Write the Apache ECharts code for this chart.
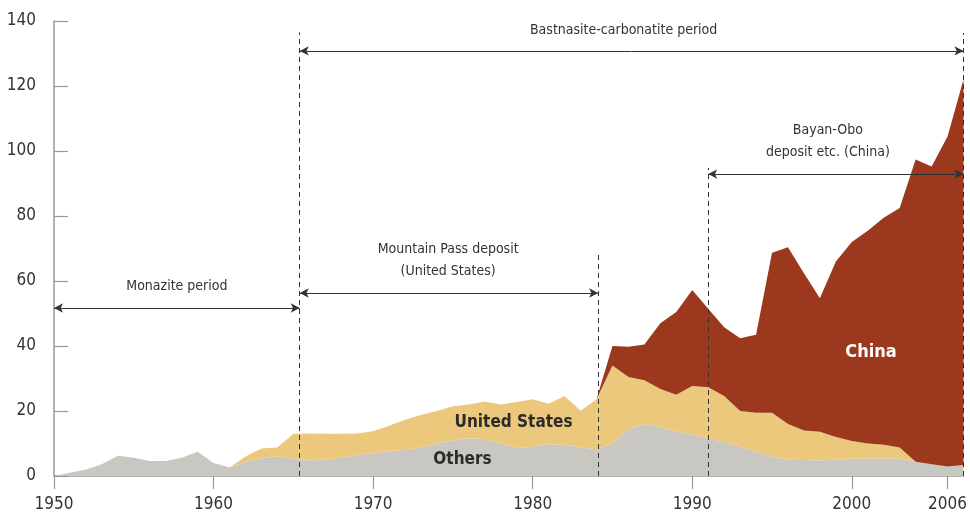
<!DOCTYPE html>
<html>
<head>
<meta charset="utf-8">
<script src="https://cdn.jsdelivr.net/npm/echarts@6/dist/echarts.min.js"></script>
<style>
html,body{margin:0;padding:0;background:#fff;}
#chart{width:970px;height:518px;}
</style>
</head>
<body>
<div id="chart"></div>
<script>
// ---- data ----
const years = [1950,1951,1952,1953,1954,1955,1956,1957,1958,1959,
  1960,1961,1962,1963,1964,1965,1966,1967,1968,1969,
  1970,1971,1972,1973,1974,1975,1976,1977,1978,1979,
  1980,1981,1982,1983,1984,1985,1986,1987,1988,1989,
  1990,1991,1992,1993,1994,1995,1996,1997,1998,1999,
  2000,2001,2002,2003,2004,2005,2006,2007];

const others = [0,1.0,2.0,3.6,6.2,5.6,4.6,4.6,5.6,7.5,
  4.0,2.6,4.3,5.5,6.0,5.4,4.8,5.0,5.7,6.5,
  7.1,7.6,8.0,8.8,10.0,11.0,11.6,11.4,10.0,8.6,
  9.0,9.8,9.6,8.8,8.2,10.0,14.5,16.0,15.0,13.8,
  12.8,11.6,10.5,9.0,7.5,6.0,5.0,4.9,4.8,5.0,
  5.3,5.4,5.4,5.4,4.4,3.6,2.9,3.4];

const unitedStates = [0,0,0,0,0,0,0,0,0,0,
  0,0,1.7,3.0,2.8,7.6,8.3,8.0,7.3,6.6,
  6.7,7.9,9.3,10.0,10.0,10.5,10.4,11.5,12.0,14.2,
  14.6,12.4,15.0,11.3,15.4,24.0,16.0,13.5,11.8,11.2,
  14.9,15.7,14.1,11.0,12.0,13.5,11.0,9.1,8.8,7.0,
  5.5,4.6,4.2,3.4,0,0,0,0];

const china = [0,0,0,0,0,0,0,0,0,0,
  0,0,0,0,0,0,0,0,0,0,
  0,0,0,0,0,0,0,0,0,0,
  0,0,0,0,0,6.0,9.3,11.0,20.2,25.5,
  29.5,24.2,21.2,22.4,24.0,49.2,54.4,48.4,41.1,54.0,
  61.2,65.5,69.9,73.7,93.0,91.6,101.6,118.6];

const xTickLabels = [1950,1960,1970,1980,1990,2000,2006];
const yTicks = [0,20,40,60,80,100,120,140];

// period boundaries (year, top of dashed line in chart units)
const boundaries = [[1965.4,136.5],[1984.1,68],[1991.0,94.8],[2007,136.3]];
// period arrows [fromYear, toYear, level]
const periods = [[1950,1965.4,51.7],[1965.4,2007,130.8],[1965.4,1984.1,56.3],[1991.0,2007,92.9]];
// annotation texts [text, year, level]
const notes = [
  ['Bastnasite-carbonatite period',1985.7,137.2],
  ['Monazite period',1957.7,58.2],
  ['Mountain Pass deposit\n(United States)',1974.7,66.5],
  ['Bayan-Obo\ndeposit etc. (China)',1998.5,102.9]
];
const seriesLabels = [
  ['United States',1978.8,16.3,'#2b2b2b',17],
  ['Others',1975.6,4.9,'#2b2b2b',17],
  ['China',2001.2,38.2,'#ffffff',18]
];

const FONT = "'Liberation Sans Narrow','DejaVu Sans Condensed','Roboto Condensed',sans-serif";

// value first, year second, so the stack runs on the value (y) dimension
function pairs(arr){ return years.map((y,i)=>[arr[i],y]); }

const chart = echarts.init(document.getElementById('chart'));
const areaSeries = (name, arr, color) => ({
  name, type:'line', stack:'total', data:pairs(arr), encode:{x:1, y:0},
  showSymbol:false, symbol:'none', smooth:false,
  lineStyle:{width:0}, areaStyle:{color, opacity:1},
  emphasis:{disabled:true}, silent:true, z:2
});

const markLines = [];
boundaries.forEach(b=>{
  markLines.push([{coord:[b[0],0], lineStyle:{type:[5,4],color:'#333',width:1}, symbol:'none'},
                  {coord:[b[0],b[1]], symbol:'none'}]);
});
periods.forEach(p=>{
  markLines.push([{coord:[p[0],p[2]], lineStyle:{type:'solid',color:'#333',width:1}},
                  {coord:[p[1],p[2]]}]);
});

const markPoints = notes.map(n=>({
  coord:[n[1],n[2]], symbolSize:0,
  label:{show:true, position:'inside', formatter:n[0], color:'#333', fontSize:14,
    fontFamily:FONT, lineHeight:22, align:'center', verticalAlign:'middle'}
})).concat(seriesLabels.map(s=>({
  coord:[s[1],s[2]], symbolSize:0,
  label:{show:true, position:'inside', formatter:s[0], color:s[3], fontSize:s[4],
    fontWeight:'bold', fontFamily:FONT, align:'center', verticalAlign:'middle'}
})));

chart.setOption({
  animation:false,
  backgroundColor:'#ffffff',
  textStyle:{fontFamily:FONT},
  grid:{left:54, right:3, top:21, bottom:42, containLabel:false},
  xAxis:{
    type:'value', min:1950, max:2007,
    axisLine:{show:true, lineStyle:{color:'#999', width:1.5}},
    axisTick:{show:true, length:13, lineStyle:{color:'#999', width:1.2}, customValues:xTickLabels},
    axisLabel:{show:true, customValues:xTickLabels, margin:20, fontSize:17, color:'#333', fontFamily:FONT,
      formatter:v=>String(v)},
    splitLine:{show:false}
  },
  yAxis:{
    type:'value', min:0, max:140, interval:20,
    axisLine:{show:true, lineStyle:{color:'#999', width:1.5}},
    axisTick:{show:true, inside:true, length:14, lineStyle:{color:'#999', width:1.2}},
    axisLabel:{show:true, margin:18, fontSize:17, color:'#333', fontFamily:FONT},
    splitLine:{show:false}
  },
  series:[
    areaSeries('Others', others, '#c9c7c2'),
    areaSeries('United States', unitedStates, '#ecc87c'),
    areaSeries('China', china, '#9c381d'),
    {
      name:'annotations', type:'line', data:[], silent:true, z:5,
      markLine:{silent:true, symbol:['arrow','arrow'], symbolSize:[7,9], label:{show:false},
        animation:false, data:markLines},
      markPoint:{silent:true, animation:false, data:markPoints}
    }
  ]
});
</script>
</body>
</html>
